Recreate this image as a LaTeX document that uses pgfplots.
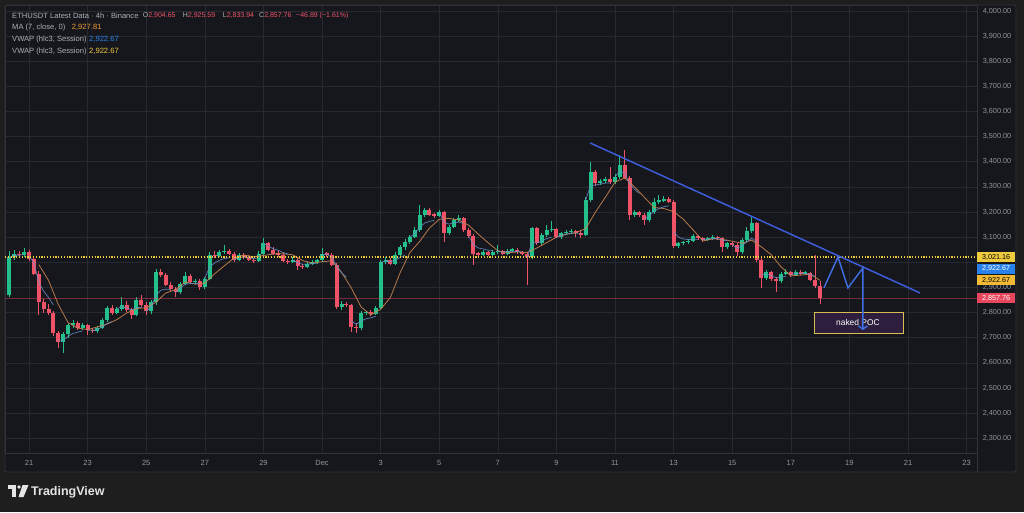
\documentclass[border=0pt]{standalone}
\usepackage{pgfplots}
\pgfplotsset{compat=1.18}
\usepackage{pgfplotstable}
\usepackage{fontspec}
\setmainfont{Liberation Sans}
\usetikzlibrary{arrows.meta}

\definecolor{pagebg}{RGB}{30,30,31}
\definecolor{plotbg}{RGB}{22,23,29}
\definecolor{gridc}{RGB}{40,42,50}
\definecolor{framec}{RGB}{50,51,58}
\definecolor{labc}{RGB}{145,148,157}
\definecolor{legc}{RGB}{172,175,182}
\definecolor{upc}{RGB}{36,192,140}
\definecolor{dnc}{RGB}{240,82,104}
\definecolor{mac}{RGB}{200,132,78}
\definecolor{vwapc}{RGB}{105,145,205}
\definecolor{trendc}{RGB}{60,92,215}
\definecolor{zigc}{RGB}{64,112,230}
\definecolor{ylw}{RGB}{240,204,60}
\definecolor{bluelab}{RGB}{41,130,235}
\definecolor{orglab}{RGB}{242,186,52}
\definecolor{redlab}{RGB}{232,70,92}
\definecolor{maval}{RGB}{240,160,50}
\definecolor{boxfill}{RGB}{44,30,60}
\definecolor{boxedge}{RGB}{216,190,80}

\pgfplotsset{
  wick/.style={forget plot, no markers, line width=0.9pt, draw=#1,
    quiver={u=0, v={\thisrow{h}-\thisrow{l}}}},
  body/.style={forget plot, no markers, line width=4pt, draw=#1,
    quiver={u=0, v={max(abs(\thisrow{c}-\thisrow{o}),6)}}},
}

% ETHUSDT 4h candles, i = candle index (4h steps from Nov 20 08:00)
% rising candles
\pgfplotstableread{
i o h l c
0 2870 3045 2860 3020
1 3020 3050 3010 3035
3 3028 3058 3022 3042
11 2682 2722 2640 2715
12 2715 2760 2700 2750
13 2750 2770 2738 2760
15 2740 2758 2730 2750
18 2726 2748 2720 2740
19 2740 2778 2735 2770
20 2770 2825 2762 2818
22 2800 2822 2795 2815
23 2815 2860 2808 2830
26 2790 2862 2785 2850
29 2805 2848 2795 2840
30 2840 2972 2832 2960
35 2880 2922 2872 2915
36 2915 2962 2908 2945
38 2920 2935 2912 2925
40 2900 2942 2895 2935
41 2935 3040 2930 3030
43 3025 3050 3020 3040
44 3040 3068 3035 3045
47 3010 3038 3005 3030
51 3005 3045 3000 3035
52 3035 3096 3030 3077
58 3001 3020 2996 3010
61 2981 3002 2976 2995
62 2995 3008 2990 3000
63 3000 3015 2994 3008
64 3008 3055 3002 3035
68 2822 2845 2812 2835
72 2737 2806 2730 2798
73 2798 2808 2790 2802
75 2795 2828 2790 2820
76 2820 3010 2815 3000
77 3000 3022 2992 3010
79 2995 3040 2990 3030
80 3030 3068 3025 3060
81 3060 3092 3050 3080
82 3080 3108 3072 3100
83 3100 3140 3095 3128
84 3128 3228 3120 3188
85 3188 3218 3180 3208
88 3185 3210 3180 3200
90 3116 3148 3108 3140
91 3140 3178 3135 3170
92 3170 3190 3160 3175
97 3030 3048 3025 3040
99 3030 3048 3026 3040
100 3040 3070 3035 3045
102 3035 3052 3030 3045
103 3045 3058 3040 3050
107 3020 3142 3012 3136
109 3075 3118 3070 3110
110 3110 3150 3102 3128
111 3128 3165 3120 3132
113 3100 3122 3094 3115
114 3115 3128 3108 3120
115 3120 3132 3112 3125
118 3110 3260 3105 3248
119 3248 3400 3240 3360
121 3315 3330 3308 3322
122 3322 3340 3315 3330
124 3320 3350 3312 3340
125 3340 3427 3332 3387
128 3188 3210 3180 3200
131 3168 3208 3160 3200
132 3200 3255 3192 3240
133 3240 3268 3232 3245
134 3245 3262 3238 3252
137 3065 3080 3058 3075
138 3075 3086 3068 3080
139 3080 3092 3074 3085
140 3085 3112 3080 3105
143 3090 3100 3084 3095
144 3095 3108 3090 3100
147 3060 3082 3054 3075
150 3040 3098 3035 3090
151 3090 3140 3082 3125
152 3125 3180 3118 3155
155 2937 2968 2930 2960
158 2925 2962 2918 2955
159 2955 2972 2948 2960
161 2950 2970 2945 2962
163 2955 2964 2950 2958
}\upcandles

% falling candles
\pgfplotstableread{
i o h l c
2 3035 3045 3018 3028
4 3042 3048 3005 3015
5 3015 3022 2948 2955
6 2955 2965 2790 2840
7 2840 2852 2800 2815
8 2815 2835 2790 2800
9 2800 2808 2705 2718
10 2718 2725 2660 2682
14 2760 2768 2732 2740
16 2750 2755 2712 2730
17 2730 2740 2718 2726
21 2818 2830 2792 2800
24 2830 2845 2802 2810
25 2810 2818 2775 2790
27 2850 2870 2822 2830
28 2830 2840 2792 2805
31 2960 2975 2940 2950
32 2950 2958 2905 2910
33 2910 2920 2885 2895
34 2895 2902 2862 2880
37 2945 2952 2915 2920
39 2925 2932 2890 2900
42 3030 3045 3018 3025
45 3045 3052 3030 3035
46 3035 3042 3002 3010
48 3030 3036 3012 3020
49 3020 3028 3004 3010
50 3010 3018 2996 3005
53 3077 3082 3045 3050
54 3050 3062 3030 3035
55 3035 3048 3022 3030
56 3030 3038 3000 3005
57 3005 3015 2995 3001
59 3010 3016 2970 2985
60 2985 2992 2975 2981
65 3035 3042 3022 3030
66 3030 3036 2984 2990
67 2990 2998 2815 2822
69 2835 2840 2824 2830
70 2830 2836 2722 2742
71 2742 2760 2720 2737
74 2802 2810 2788 2795
78 3010 3016 2988 2995
86 3208 3215 3185 3190
87 3190 3198 3178 3185
89 3200 3206 3080 3116
93 3175 3182 3120 3128
94 3128 3135 3098 3105
95 3105 3112 2990 3035
96 3035 3042 3022 3030
98 3040 3045 3024 3030
101 3045 3050 3030 3035
104 3050 3056 3035 3040
105 3040 3046 3028 3035
106 3035 3040 2910 3020
108 3136 3140 3068 3075
112 3132 3138 3095 3100
116 3125 3130 3100 3115
117 3115 3124 3095 3110
120 3360 3368 3305 3315
123 3330 3380 3312 3320
126 3387 3447 3330 3337
127 3337 3345 3170 3188
129 3200 3206 3182 3190
130 3190 3198 3150 3168
135 3252 3258 3235 3240
136 3240 3246 3055 3065
141 3105 3110 3088 3095
142 3095 3102 3082 3090
145 3100 3106 3088 3095
146 3095 3100 3040 3060
148 3075 3080 3062 3070
149 3070 3076 3025 3040
153 3155 3160 3002 3010
154 3010 3018 2898 2937
156 2960 2966 2925 2935
157 2935 2942 2880 2925
160 2960 2966 2942 2950
162 2962 2968 2948 2955
164 2958 2962 2925 2930
165 2930 3030 2898 2904.65
166 2904.65 2925.59 2833.94 2857.76
}\downcandles

% MA (7, close)
\pgfplotstableread{
i v
6 2991
8 2928
10 2832
12 2760
14 2738
16 2732
18 2743
20 2754
22 2772
24 2798
26 2816
28 2819
30 2841
32 2878
34 2891
36 2922
38 2913
40 2917
42 2954
44 2986
46 3017
48 3029
50 3022
52 3027
54 3033
56 3034
58 3030
60 3007
62 2997
64 3002
66 3006
68 2960
70 2898
72 2822
74 2791
76 2813
78 2860
80 2959
82 3039
84 3083
86 3136
88 3171
90 3175
92 3168
94 3148
96 3112
98 3078
100 3046
102 3038
104 3041
106 3039
108 3057
110 3078
112 3100
114 3111
116 3119
118 3134
120 3200
122 3258
124 3319
126 3336
128 3300
130 3259
132 3218
134 3214
136 3202
138 3171
140 3129
142 3085
144 3093
146 3091
148 3084
150 3076
152 3088
154 3061
156 3030
158 2982
160 2946
162 2949
164 2953
166 2928
}\mavals

% VWAP (hlc3, session), broken at each session start
\pgfplotstableread{
i v
0 3020
1 3027
2 3028
3 3031
3.5 nan
4 3023
5 2999
6 2920
7 2885
8 2860
9 2830
9.5 nan
10 2689
11 2690
12 2705
13 2717
14 2722
15 2727
15.5 nan
16 2730
17 2729
18 2733
19 2742
20 2757
21 2764
21.5 nan
22 2815
23 2823
24 2818
25 2811
26 2819
27 2821
27.5 nan
28 2805
29 2823
30 2868
31 2889
32 2893
33 2893
33.5 nan
34 2880
35 2898
36 2913
37 2915
38 2917
39 2914
39.5 nan
40 2935
41 2983
42 2997
43 3008
44 3015
45 3018
45.5 nan
46 3010
47 3020
48 3020
49 3018
50 3015
51 3018
51.5 nan
52 3077
53 3064
54 3054
55 3048
56 3039
57 3033
57.5 nan
58 3010
59 2998
60 2992
61 2993
62 2994
63 2997
63.5 nan
64 3031
65 3031
66 3020
67 2985
68 2958
69 2941
69.5 nan
70 2767
71 2753
72 2766
73 2775
74 2779
75 2785
75.5 nan
76 3000
77 3005
78 3002
79 3009
80 3019
81 3029
81.5 nan
82 3100
83 3114
84 3139
85 3156
86 3163
87 3167
87.5 nan
88 3200
89 3158
90 3152
91 3157
92 3160
93 3155
93.5 nan
94 3105
95 3070
96 3057
97 3053
98 3048
99 3047
99.5 nan
100 3045
101 3040
102 3042
103 3044
104 3043
105 3042
105.5 nan
106 3020
107 3078
108 3077
109 3085
110 3094
111 3100
111.5 nan
112 3100
113 3108
114 3112
115 3115
116 3115
117 3115
117.5 nan
118 3248
119 3304
120 3308
121 3311
122 3315
123 3316
123.5 nan
124 3340
125 3364
126 3355
127 3313
128 3290
129 3274
129.5 nan
130 3170
131 3185
132 3203
133 3214
134 3221
135 3225
135.5 nan
136 3122
137 3100
138 3093
139 3090
140 3092
141 3091
141.5 nan
142 3090
143 3093
144 3095
145 3095
146 3088
147 3086
147.5 nan
148 3070
149 3055
150 3067
151 3081
152 3096
153 3082
153.5 nan
154 2951
155 2953
156 2947
157 2938
158 2941
159 2944
159.5 nan
160 2950
161 2956
162 2956
163 2956
164 2951
165 2943
}\vwap

\begin{document}
\begin{tikzpicture}
\fill[pagebg] (0pt,0pt) rectangle (1024pt,512pt);
\draw[framec, fill=plotbg, line width=0.8pt, rounded corners=2pt] (5pt,40pt) rectangle (1016pt,507pt);
\draw[framec, line width=0.8pt] (977pt,40pt) -- (977pt,59pt);

\begin{axis}[
  at={(5pt,59pt)}, anchor=south west,
  scale only axis, width=972pt, height=448pt,
  xmin=20.18, xmax=53.355, ymin=2241, ymax=4024,
  clip mode=individual,
  axis line style={draw=framec, line width=0.8pt},
  major tick length=0pt,
  grid=major,
  major grid style={draw=gridc, line width=0.6pt},
  xtick={21,23,...,53},
  xticklabels={21,23,25,27,29,Dec,3,5,7,9,11,13,15,17,19,21,23},
  xticklabel style={font=\fontsize{7.5}{9}\selectfont, text=labc, anchor=center, yshift=-10pt},
  ytick={2300,2400,2500,2600,2700,2800,2900,3100,3200,3300,3400,3500,3600,3700,3800,3900,4000},
  extra y ticks={3000}, extra y tick labels={},
  extra tick style={grid=major},
  yticklabel pos=right,
  scaled y ticks=false,
  yticklabel style={font=\fontsize{7.3}{9}\selectfont, text=labc, anchor=center, xshift=20pt,
    /pgf/number format/.cd, fixed, fixed zerofill, precision=2, 1000 sep={,}, assume math mode=true},
]
% wicks
\addplot[wick=upc] table[x expr={20.3333+\thisrow{i}/6}, y=l] {\upcandles};
\addplot[wick=dnc] table[x expr={20.3333+\thisrow{i}/6}, y=l] {\downcandles};
% bodies
\addplot[body=upc] table[x expr={20.3333+\thisrow{i}/6}, y=o] {\upcandles};
\addplot[body=dnc] table[x expr={20.3333+\thisrow{i}/6}, y=c] {\downcandles};

% indicators
\addplot[mac, line width=0.8pt, opacity=0.9] table[x expr={20.3333+\thisrow{i}/6}, y=v] {\mavals};
\addplot[vwapc, line width=0.7pt, opacity=0.85, unbounded coords=jump] table[x expr={20.3333+\thisrow{i}/6}, y=v] {\vwap};

% price lines
\addplot[redlab, opacity=0.45, line width=0.7pt] coordinates {(20.18,2857.76) (53.355,2857.76)};
\addplot[ylw, line width=1.1pt, dash pattern=on 1.2pt off 1.6pt] coordinates {(20.18,3021.16) (53.355,3021.16)};

% trend line
\addplot[trendc, line width=1.5pt] coordinates {(40.15,3475) (51.41,2878)};

% naked POC box
\draw[boxedge, fill=boxfill, line width=0.9pt] (axis cs:47.79,2718) rectangle (axis cs:50.83,2802);
\node[text=white, font=\fontsize{8.4}{9}\selectfont] at (axis cs:49.29,2762) {naked POC};

% projected path
\addplot[zigc, line width=1.4pt, -{Straight Barb[length=3.5pt,width=9pt]}] coordinates
  {(48.13,2898) (48.61,3021) (48.95,2898) (49.46,2977) (49.46,2730)};

% price scale labels
\begin{scope}[every node/.style={anchor=west, minimum width=38pt, minimum height=10.5pt,
    inner sep=0pt, font=\fontsize{7.2}{8}\selectfont}]
\node[fill=ylw, text=black] at (axis cs:53.355,3021.16) {3,021.16};
\node[fill=bluelab, text=white] at (axis cs:53.355,2974) {2,922.67};
\node[fill=orglab, text=black] at (axis cs:53.355,2929) {2,922.67};
\node[fill=redlab, text=white] at (axis cs:53.355,2857.76) {2,857.76};
\end{scope}
\end{axis}

% legend text
\begin{scope}[every node/.style={anchor=west, inner sep=0pt, font=\fontsize{7.6}{9}\selectfont}]
\node[text=legc] at (12pt,496.5pt) {ETHUSDT Latest Data · 4h · Binance};
\node[font=\fontsize{7}{9}\selectfont] at (142.7pt,496.5pt) {\textcolor{legc}{O}\textcolor{dnc}{2,904.65}};
\node[font=\fontsize{7}{9}\selectfont] at (182.7pt,496.5pt) {\textcolor{legc}{H}\textcolor{dnc}{2,925.59}};
\node[font=\fontsize{7}{9}\selectfont] at (222.7pt,496.5pt) {\textcolor{legc}{L}\textcolor{dnc}{2,833.94}};
\node[font=\fontsize{7}{9}\selectfont] at (259pt,496.5pt) {\textcolor{legc}{C}\textcolor{dnc}{2,857.76}};
\node[font=\fontsize{7}{9}\selectfont, text=dnc] at (296pt,496.5pt) {−46.89 (−1.61\%)};
\node[text=legc] at (12pt,484.5pt) {MA (7, close, 0)};
\node[text=maval] at (71.7pt,484.5pt) {2,927.81};
\node[text=legc] at (12pt,472.5pt) {VWAP (hlc3, Session)};
\node[text=bluelab] at (89pt,472.5pt) {2,922.67};
\node[text=legc] at (12pt,460.5pt) {VWAP (hlc3, Session)};
\node[text=ylw] at (89pt,460.5pt) {2,922.67};
\end{scope}

% TradingView logo
\fill[white!90!black] (8pt,27pt) rectangle (16pt,23pt);
\fill[white!90!black] (12pt,23pt) rectangle (16pt,15pt);
\fill[white!90!black] (19pt,25pt) circle (1.9pt);
\fill[white!90!black] (22.5pt,27pt) -- (28.5pt,27pt) -- (23.5pt,15pt) -- (18.5pt,15pt) -- cycle;
\node[anchor=west, inner sep=0pt, text=white!90!black, font=\bfseries\fontsize{12.5}{14}\selectfont] at (31pt,20pt) {TradingView};

\pgfresetboundingbox
\path[use as bounding box] (0pt,0pt) rectangle (1024pt,512pt);
\end{tikzpicture}
\end{document}
